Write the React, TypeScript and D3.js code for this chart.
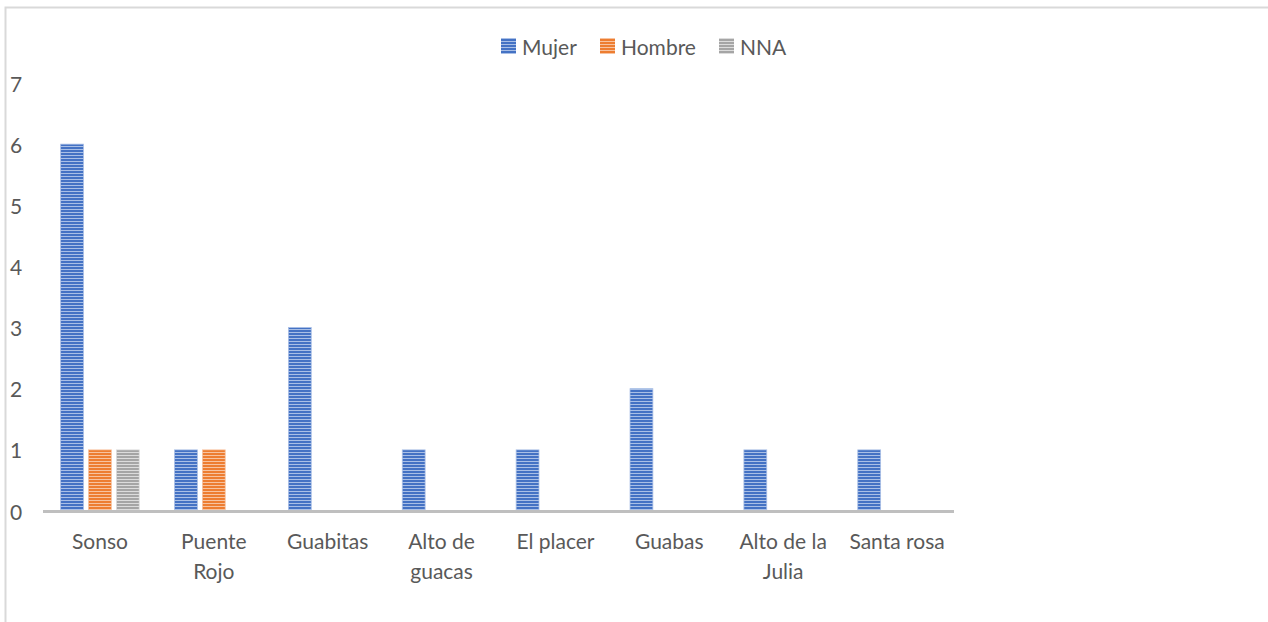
import React from 'react'
import * as d3 from 'd3'

// Counts per vereda, split by Mujer / Hombre / NNA. Excel-style clustered
// columns with a horizontal-stripe fill on every bar.
const categories = ['Sonso', 'Puente Rojo', 'Guabitas', 'Alto de guacas', 'El placer', 'Guabas', 'Alto de la Julia', 'Santa rosa']
const labelLines = [['Sonso'], ['Puente', 'Rojo'], ['Guabitas'], ['Alto de', 'guacas'], ['El placer'], ['Guabas'], ['Alto de la', 'Julia'], ['Santa rosa']]
const series = ['Mujer', 'Hombre', 'NNA']
const mujer = [6, 1, 3, 1, 1, 2, 1, 1]
const hombre = [1, 1, 0, 0, 0, 0, 0, 0]
const nna = [1, 0, 0, 0, 0, 0, 0, 0]
const yTicks = [0, 1, 2, 3, 4, 5, 6, 7]

const values = [mujer, hombre, nna]
const COLORS = [
  { dark: '#4472c4', light: '#a9bfe6' },
  { dark: '#ed7d31', light: '#f7c3a0' },
  { dark: '#a5a5a5', light: '#dcdcdc' },
]
const FONT = 'Lato, "Open Sans", sans-serif'
const TEXT = '#595959'
const FS = 21

export default function App() {
  if (typeof document !== 'undefined') document.body.style.margin = '0'
  const W = 1268
  const H = 622
  const plot = { left: 43, right: 954, top: 83, bottom: 511 }

  const y = d3.scaleLinear().domain([0, 7]).range([plot.bottom, plot.top])
  const x = d3.scaleBand<string>().domain(categories).range([plot.left, plot.right]).paddingInner(0.31).paddingOuter(0.155)
  const xs = d3.scaleBand<string>().domain(series).range([0, x.bandwidth()]).paddingInner(0.18)

  const legendX = [501, 600, 719]

  return (
    <svg width={W} height={H} style={{ display: 'block', fontFamily: FONT }}>
      <defs>
        {COLORS.map((c, i) => (
          <pattern key={i} id={`stripe${i}`} patternUnits="userSpaceOnUse" width={6} height={3}>
            <rect width={6} height={3} fill={c.light} />
            <rect width={6} height={2} fill={c.dark} />
          </pattern>
        ))}
      </defs>
      <rect x={0} y={0} width={W} height={H} fill="#fff" />
      <path d={`M${W},7.5 H5.5 V${H}`} fill="none" stroke="#d9d9d9" strokeWidth={2} />

      {/* legend */}
      {series.map((s, i) => (
        <g key={s}>
          <rect x={legendX[i]} y={38} width={15} height={16} fill={`url(#stripe${i})`} />
          <text x={legendX[i] + 21} y={46} dominantBaseline="central" fontSize={FS} fill={TEXT}>
            {s}
          </text>
        </g>
      ))}

      {/* y labels */}
      {yTicks.map((t) => (
        <text key={t} x={10} y={y(t)} dominantBaseline="central" fontSize={FS} fill={TEXT}>
          {t}
        </text>
      ))}

      {/* bars */}
      {categories.map((c, ci) =>
        series.map((s, si) => {
          const v = values[si][ci]
          if (!v) return null
          const bx = (x(c) ?? 0) + (xs(s) ?? 0)
          return (
            <rect
              key={c + s}
              x={bx}
              y={y(v)}
              width={xs.bandwidth()}
              height={y(0) - y(v)}
              fill={`url(#stripe${si})`}
              stroke={COLORS[si].light}
              strokeWidth={0.8}
            />
          )
        }),
      )}

      {/* axis line */}
      <line x1={plot.left} x2={plot.right} y1={plot.bottom + 0.5} y2={plot.bottom + 0.5} stroke="#bfbfbf" strokeWidth={3} />

      {/* x labels */}
      {categories.map((c, ci) => (
        <text key={c} x={(x(c) ?? 0) + x.bandwidth() / 2} textAnchor="middle" fontSize={FS} fill={TEXT}>
          {labelLines[ci].map((l, li) => (
            <tspan key={li} x={(x(c) ?? 0) + x.bandwidth() / 2} y={549 + li * 30}>
              {l}
            </tspan>
          ))}
        </text>
      ))}
    </svg>
  )
}
